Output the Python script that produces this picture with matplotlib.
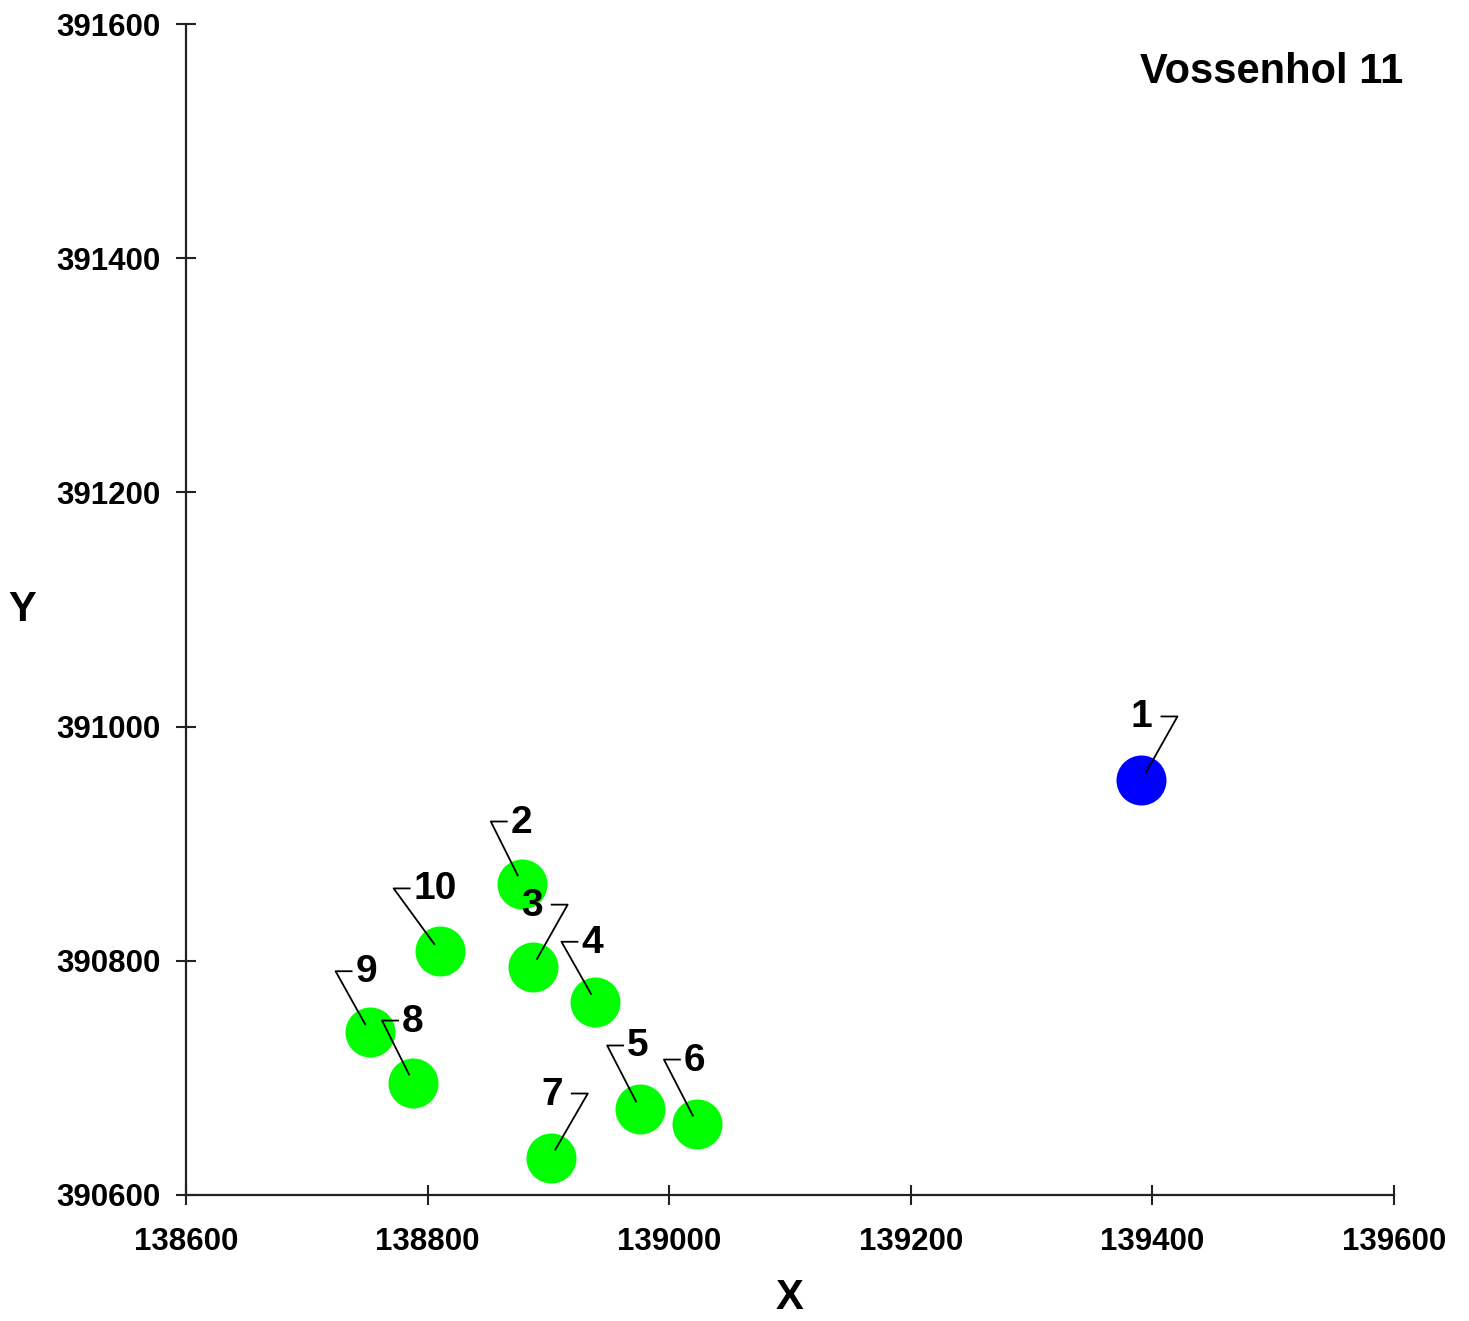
import numpy as np
import matplotlib
matplotlib.use('Agg')
import matplotlib.pyplot as plt
from matplotlib.lines import Line2D
from matplotlib.transforms import IdentityTransform

# 1. Data (well positions)
labels = ['1', '2', '3', '4', '5', '6', '7', '8', '9', '10']
x_vals = [139391, 138878, 138887, 138939, 138976, 139023, 138902, 138788, 138752, 138810]
y_vals = [390954, 390866, 390795, 390765, 390673, 390661, 390632, 390696, 390739, 390808]
colors = ['#0000ff'] + ['#00ff00'] * 9

x_ticks = [138600, 138800, 139000, 139200, 139400, 139600]
y_ticks = [390600, 390800, 391000, 391200, 391400, 391600]

# label leader layout (pixels): elbow offset from point, hook side (+1 right, -1 left)
elbow_dx = [36, -31, 35, -34, -33, -33, 37, -31, -34, -46]
elbow_dy = [64, 62, 62, 60, 64, 64, 64, 62, 61, 63]
hook_side = [-1, 1, -1, 1, 1, 1, -1, 1, 1, 1]

plt.rcParams['font.family'] = ['Liberation Sans', 'DejaVu Sans']
plt.rcParams['font.weight'] = 'bold'

fig = plt.figure(figsize=(14.69, 13.21), dpi=100)
ax = fig.add_axes([0.1266, 0.0954, 0.8223, 0.8864])

for x, y, c in zip(x_vals, y_vals, colors):
    ax.plot(x, y, 'o', color=c, markersize=36, markeredgewidth=0, zorder=2)

ax.set_xlim(138600, 139600)
ax.set_ylim(390600, 391600)
ax.set_xticks(x_ticks)
ax.set_yticks(y_ticks)
ax.set_xticklabels([str(t) for t in x_ticks], fontsize=22.5, fontweight='bold')
ax.set_yticklabels([str(t) for t in y_ticks], fontsize=22.5, fontweight='bold')
ax.tick_params(direction='inout', length=14, width=1.5, color='#222222')
ax.tick_params(axis='x', pad=16)
ax.tick_params(axis='y', pad=11)

for side in ['top', 'right']:
    ax.spines[side].set_visible(False)
for side in ['left', 'bottom']:
    ax.spines[side].set_linewidth(1.6)
    ax.spines[side].set_color('#222222')

ax.set_xlabel('X', fontsize=30, fontweight='bold', labelpad=15)
ax.set_ylabel('Y', fontsize=30, fontweight='bold', rotation=0, va='center', ha='center')
ax.yaxis.set_label_coords(-0.1358, 0.5)

ax.text(1.0075, 0.959, 'Vossenhol 11', transform=ax.transAxes, ha='right', va='center',
        fontsize=30, fontweight='bold')

# 2. Leader lines and labels
hook_len = 16
for lab, x, y, dx, dy, s in zip(labels, x_vals, y_vals, elbow_dx, elbow_dy, hook_side):
    bx, by = ax.transData.transform((x, y))
    dist = np.hypot(dx, dy)
    sx, sy = bx + dx * 9 / dist, by + dy * 9 / dist
    ex, ey = bx + dx, by + dy
    hx = ex + s * hook_len
    ax.add_line(Line2D([sx, ex, hx], [sy, ey, ey], transform=IdentityTransform(),
                       color='black', linewidth=1.3, zorder=3, clip_on=False))
    gap = 4 if s > 0 else 9
    ax.annotate(lab, xy=(x, y), xytext=(dx + s * (hook_len + gap), dy - 1),
                textcoords='offset pixels', ha='left' if s > 0 else 'right',
                va='center', fontsize=28, fontweight='bold', zorder=4)

fig.savefig('out.png', dpi=100)
